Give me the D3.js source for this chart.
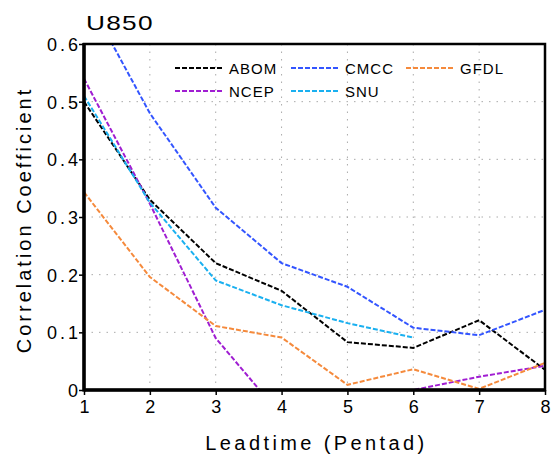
<!DOCTYPE html>
<meta charset="utf-8">
<style>
body { margin: 0; background: #fff; }
text { font-family: "Liberation Sans", Arial, sans-serif; fill: #000; }
.grid line { stroke: #aaa; stroke-dasharray: 1.5,6; stroke-width: 1; }
.tick text { font-size: 18px; letter-spacing: 3px; font-family: "Liberation Sans", Arial, sans-serif; }
.xax .tick text { letter-spacing: 0; }
.series { fill: none; stroke-width: 2; stroke-dasharray: 5,2; }
</style>
<svg width="552" height="455"></svg>
<script src="https://d3js.org/d3.v7.min.js"></script>
<script>

var leadtime = [1, 2, 3, 4, 5, 6, 7, 8];
var yTicks = [0, 0.1, 0.2, 0.3, 0.4, 0.5, 0.6];

var abom = [0.50, 0.33, 0.22, 0.172, 0.083, 0.073, 0.121, 0.035];
var cmcc = [0.69, 0.48, 0.316, 0.22, 0.179, 0.108, 0.095, 0.139];
var gfdl = [0.343, 0.196, 0.111, 0.091, 0.009, 0.036, 0.002, 0.047];
var ncep = [0.54, 0.323, 0.09, -0.045, -0.05, 0.0, 0.023, 0.042];
var snu  = [0.51, 0.325, 0.19, 0.147, 0.116, 0.091];

var series = [
  {name: "ABOM", values: abom, color: "#000000"},
  {name: "NCEP", values: ncep, color: "#a01ed2"},
  {name: "CMCC", values: cmcc, color: "#3355ff"},
  {name: "SNU",  values: snu,  color: "#1ab0f0"},
  {name: "GFDL", values: gfdl, color: "#f58a3c"}
];

var svg = d3.select("svg");
var pLeft = 84, pRight = 545, pTop = 44, pBottom = 390;

var x = d3.scaleLinear().domain([1, 8]).range([pLeft, pRight]);
var y = d3.scaleLinear().domain([0, 0.6]).range([pBottom, pTop]);

svg.append("clipPath").attr("id", "clip")
  .append("rect")
    .attr("x", pLeft).attr("y", pTop)
    .attr("width", pRight - pLeft).attr("height", pBottom - pTop);

// grid
var grid = svg.append("g").attr("class", "grid");
grid.selectAll(".gx")
  .data(leadtime.slice(1, -1))
  .enter().append("line")
    .attr("x1", function(d) { return x(d); })
    .attr("x2", function(d) { return x(d); })
    .attr("y1", pTop).attr("y2", pBottom);
grid.selectAll(".gy")
  .data(yTicks.slice(1, -1))
  .enter().append("line")
    .attr("y1", function(d) { return y(d); })
    .attr("y2", function(d) { return y(d); })
    .attr("x1", pLeft).attr("x2", pRight);

// lines
var line = d3.line()
    .x(function(d, i) { return x(leadtime[i]); })
    .y(function(d) { return y(d); });

svg.append("g").attr("clip-path", "url(#clip)")
  .selectAll("path")
  .data(series)
  .enter().append("path")
    .attr("class", "series")
    .attr("stroke", function(d) { return d.color; })
    .attr("d", function(d) { return line(d.values); });

// axes
var xAxis = svg.append("g")
    .attr("class", "xax")
    .attr("transform", "translate(0," + pBottom + ")")
    .call(d3.axisBottom(x).tickValues(leadtime).tickSize(5).tickSizeOuter(0).tickFormat(d3.format("d")));
var yAxis = svg.append("g")
    .attr("transform", "translate(" + pLeft + ",0)")
    .call(d3.axisLeft(y).tickValues(yTicks).tickSize(5).tickSizeOuter(0)
      .tickFormat(function(d) { return d === 0 ? "0" : d3.format(".1f")(d); }));
xAxis.select(".domain").remove();
yAxis.select(".domain").remove();
xAxis.selectAll(".tick line").attr("stroke", "#000").attr("stroke-width", 1.5);
yAxis.selectAll(".tick line").attr("stroke", "#000").attr("stroke-width", 1.5);
xAxis.selectAll(".tick text").attr("y", 23).attr("dy", null);
yAxis.selectAll(".tick text").attr("x", -3).attr("dy", "0.36em");

// frame
svg.append("rect")
    .attr("x", pLeft).attr("y", pTop)
    .attr("width", pRight - pLeft).attr("height", pBottom - pTop)
    .attr("fill", "none").attr("stroke", "#000").attr("stroke-width", 2.5);
svg.append("line").attr("x1", pLeft).attr("x2", pLeft).attr("y1", pTop - 1).attr("y2", pBottom + 1.5)
    .attr("stroke", "#000").attr("stroke-width", 3.5);
svg.append("line").attr("x1", pLeft).attr("x2", pRight + 1).attr("y1", pBottom).attr("y2", pBottom)
    .attr("stroke", "#000").attr("stroke-width", 3.5);

// title (GrADS font is wide, so stretch it a bit)
svg.append("text")
    .attr("transform", "translate(" + (pLeft + 2) + ",30) scale(1.25,1)")
    .attr("font-size", 21)
    .attr("letter-spacing", 1)
    .text("U850");

// axis titles
svg.append("text")
    .attr("x", (pLeft + pRight) / 2 + 2).attr("y", 450)
    .attr("text-anchor", "middle")
    .attr("font-size", 20)
    .attr("letter-spacing", 3.4)
    .text("Leadtime (Pentad)");
svg.append("text")
    .attr("transform", "translate(31," + ((pTop + pBottom) / 2 + 3) + ") rotate(-90)")
    .attr("text-anchor", "middle")
    .attr("font-size", 20)
    .attr("letter-spacing", 3)
    .text("Correlation Coefficient");

// legend
var legendPos = {
  ABOM: [175, 68], CMCC: [291, 68], GFDL: [406, 68],
  NCEP: [175, 91], SNU: [291, 91]
};
var lg = svg.append("g").selectAll("g")
  .data(series)
  .enter().append("g")
    .attr("transform", function(d) { return "translate(" + legendPos[d.name][0] + "," + legendPos[d.name][1] + ")"; });
lg.append("line")
    .attr("class", "series")
    .attr("x1", 0).attr("x2", 47)
    .attr("stroke", function(d) { return d.color; });
lg.append("text")
    .attr("x", 54).attr("y", 6)
    .attr("font-size", 15)
    .attr("letter-spacing", 1)
    .text(function(d) { return d.name; });

</script>
